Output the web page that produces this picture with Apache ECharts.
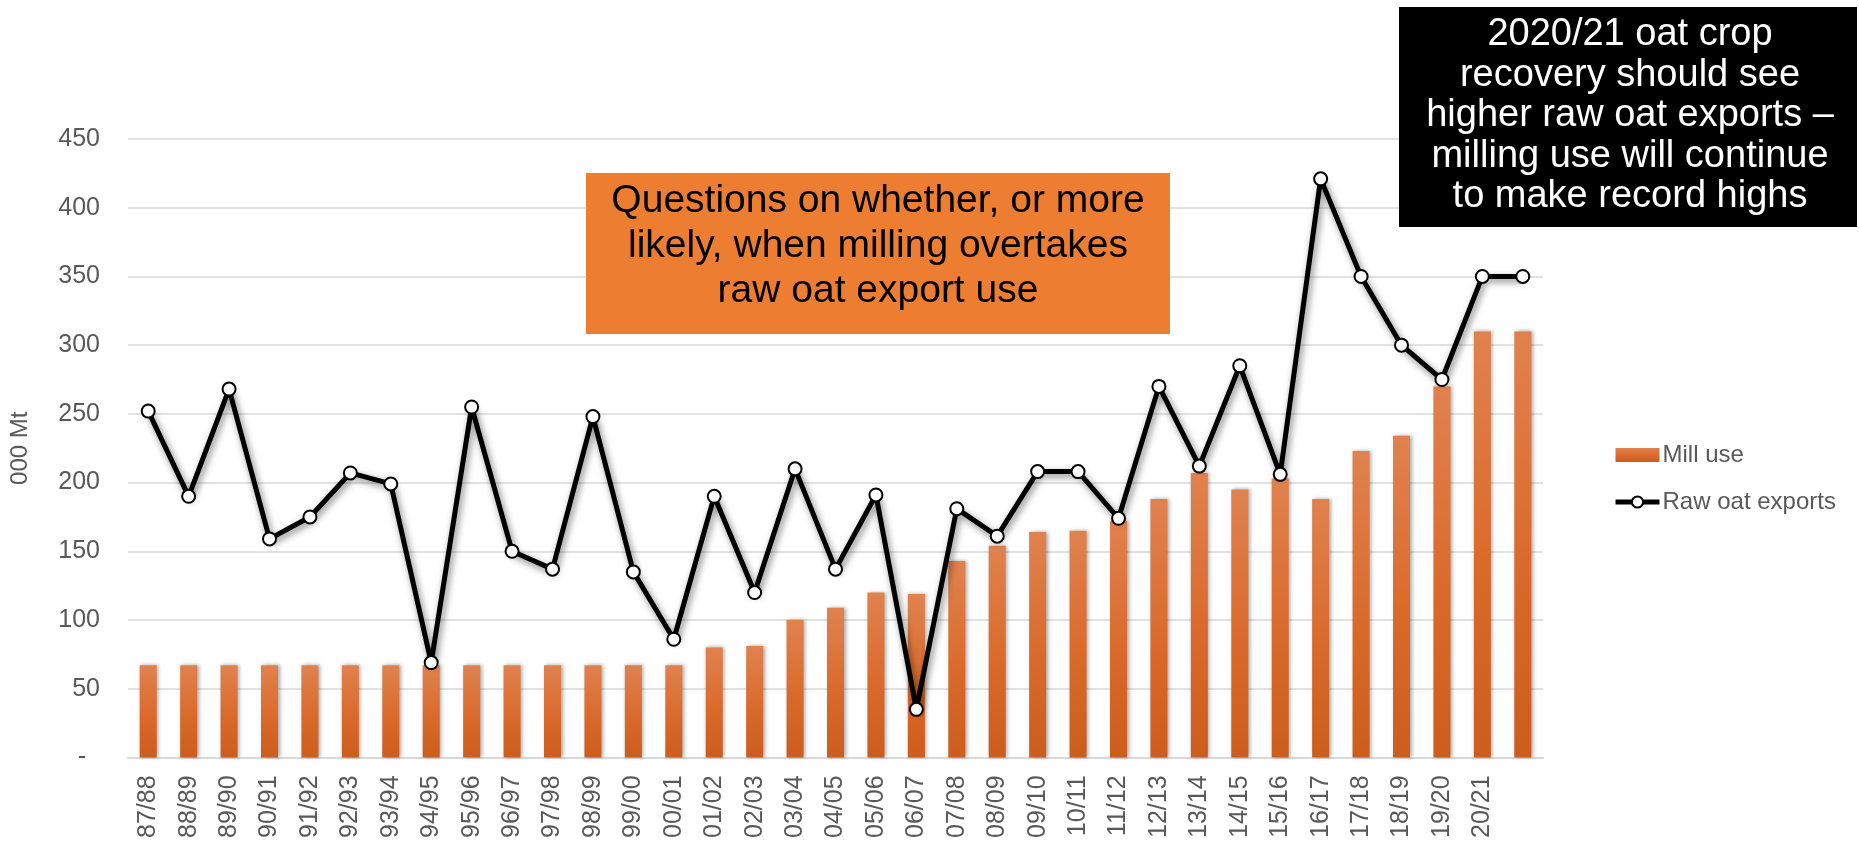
<!DOCTYPE html>
<html>
<head>
<meta charset="utf-8">
<script src="https://cdn.jsdelivr.net/npm/echarts@6/dist/echarts.min.js"></script>
<style>
html,body{margin:0;padding:0;background:#fff;}
#chart{width:1859px;height:841px;}
</style>
</head>
<body>
<div id="chart"></div>
<script>
var categories = ['87/88','88/89','89/90','90/91','91/92','92/93','93/94','94/95','95/96','96/97','97/98','98/99','99/00','00/01','01/02','02/03','03/04','04/05','05/06','06/07','07/08','08/09','09/10','10/11','11/12','12/13','13/14','14/15','15/16','16/17','17/18','18/19','19/20','20/21',''];
var millUse = [67,67,67,67,67,67,67,67,67,67,67,67,67,67,80,81,100,109,120,119,143,154,164,165,172,188,207,195,203,188,223,234,270,310,310];
var rawOatExports = [252,190,268,159,175,207,199,69,255,150,137,248,135,86,190,120,210,137,191,35,181,161,208,208,174,270,212,285,206,421,350,300,275,350,350];
var yTicks = {min:0, max:450, interval:50};
var orangeNote = 'Questions on whether, or more\nlikely, when milling overtakes\nraw oat export use';
var blackNote = '2020/21 oat crop\nrecovery should see\nhigher raw oat exports \u2013\nmilling use will continue\nto make record highs';

var chart = echarts.init(document.getElementById('chart'));
var labelFont = '"Liberation Sans", Arial, sans-serif';
var option = {
  animation: false,
  backgroundColor: '#ffffff',
  grid: {left: 121, right: 316, top: 139, bottom: 82, containLabel: false},
  legend: {
    orient: 'vertical',
    left: 1608,
    top: 438,
    itemWidth: 44,
    itemHeight: 14,
    itemGap: 23,
    textStyle: {color: '#595959', fontSize: 24, fontFamily: labelFont, padding: [0,0,0,-2]},
    data: [
      {name: 'Mill use', icon: 'rect'},
      {name: 'Raw oat exports', lineStyle: {width: 5, color: '#000'}, itemStyle: {color: '#fff', borderColor: '#000', borderWidth: 2}}
    ]
  },
  xAxis: {
    type: 'category',
    data: categories,
    axisLine: {lineStyle: {color: '#D9D9D9', width: 2}},
    axisTick: {show: false},
    axisLabel: {rotate: 90, margin: 18, color: '#595959', fontSize: 25, fontFamily: labelFont, interval: 0}
  },
  yAxis: {
    type: 'value',
    min: yTicks.min, max: yTicks.max, interval: yTicks.interval,
    name: '000 Mt',
    nameLocation: 'middle',
    nameRotate: 90,
    nameGap: 96,
    nameTextStyle: {color: '#595959', fontSize: 24, fontFamily: labelFont},
    axisLine: {show: false},
    axisTick: {show: false},
    splitLine: {lineStyle: {color: '#D9D9D9', width: 1.5}},
    axisLabel: {
      margin: 28, color: '#595959', fontSize: 25, fontFamily: labelFont,
      formatter: function (v) { return v === 0 ? '-  ' : String(v); }
    }
  },
  series: [
    {
      name: 'Mill use',
      type: 'bar',
      data: millUse,
      barWidth: 17,
      itemStyle: {
        color: new echarts.graphic.LinearGradient(0, 0, 0, 1, [
          {offset: 0, color: '#E0824F'},
          {offset: 0.55, color: '#DA6A2B'},
          {offset: 1, color: '#CC5D1C'}
        ]),
        shadowColor: 'rgba(0,0,0,0.35)',
        shadowBlur: 4,
        shadowOffsetX: 1.5,
        shadowOffsetY: 0
      },
      z: 2
    },
    {
      name: 'Raw oat exports',
      type: 'line',
      data: rawOatExports,
      symbol: 'circle',
      symbolSize: 13,
      showAllSymbol: true,
      lineStyle: {color: '#000000', width: 5, shadowColor: 'rgba(0,0,0,0.5)', shadowBlur: 7, shadowOffsetX: 2, shadowOffsetY: 3},
      itemStyle: {color: '#ffffff', borderColor: '#000000', borderWidth: 2},
      z: 5
    }
  ],
  graphic: [
    {
      type: 'rect', left: 586, top: 173, z: 100,
      shape: {width: 584, height: 161},
      style: {fill: '#ED7D31'}
    },
    {
      type: 'text', z: 101,
      x: 878, y: 246,
      style: {
        text: orangeNote,
        font: '39px "Liberation Sans", Arial, sans-serif',
        fill: '#000000', align: 'center', verticalAlign: 'middle', lineHeight: 45
      }
    },
    {
      type: 'rect', left: 1399, top: 7, z: 100,
      shape: {width: 458, height: 220},
      style: {fill: '#000000'}
    },
    {
      type: 'text', z: 101,
      x: 1630, y: 116,
      style: {
        text: blackNote,
        font: '38px "Liberation Sans", Arial, sans-serif',
        fill: '#ffffff', align: 'center', verticalAlign: 'middle', lineHeight: 40.5
      }
    }
  ]
};
chart.setOption(option);
</script>
</body>
</html>
